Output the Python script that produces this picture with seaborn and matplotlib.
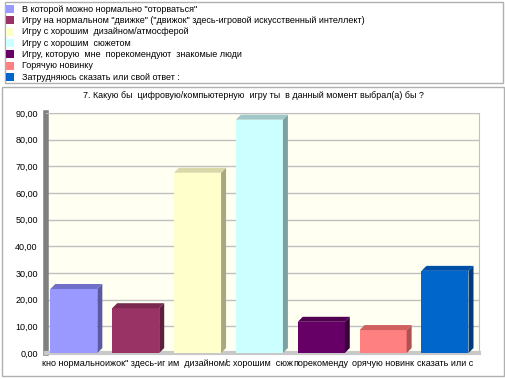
import matplotlib
matplotlib.use("Agg")
import matplotlib.pyplot as plt
import seaborn as sns
import pandas as pd
from matplotlib.patches import Rectangle, Polygon
from matplotlib.transforms import IdentityTransform

categories = [
    'В которой можно нормально "оторваться"',
    'Игру на нормальном "движке" ("движок" здесь-игровой искусственный интеллект)',
    'Игру с хорошим  дизайном/атмосферой',
    'Игру с хорошим  сюжетом',
    'Игру, которую  мне  порекомендуют  знакомые люди',
    'Горячую новинку',
    'Затрудняюсь сказать или свой ответ :',
]
tick_labels = ["кно нормально", "ижок\" здесь-иг", "им  дизайном/", "с хорошим  сюж",
               "порекоменду", "орячую новинк", "сказать или с"]
values = [24.0, 16.8, 67.6, 87.5, 11.7, 8.6, 30.8]
colors = ["#9999FF", "#993366", "#FFFFCC", "#CCFFFF", "#660066", "#FF8080", "#0066CC"]
side_colors = ["#5a5aa0", "#5e1f3e", "#a8a880", "#7fa0a0", "#3a003a", "#b05050", "#003c7a"]
top_colors = ["#7070c8", "#7a284f", "#d8d8a8", "#a0c8c8", "#500050", "#d06060", "#0050a8"]
title = "7. Какую бы  цифровую/компьютерную  игру ты  в данный момент выбрал(а) бы ?"
yticks = [0, 10, 20, 30, 40, 50, 60, 70, 80, 90]

plt.rcParams['font.family'] = ['Liberation Sans', 'DejaVu Sans']
W, H = 506, 379
fig = plt.figure(figsize=(W / 100, H / 100), dpi=100)
fig.patch.set_facecolor("white")

# legend box
fig.patches.append(Rectangle((5 / W, 1 - 83 / H), 498 / W, 81 / H, transform=fig.transFigure,
                             facecolor="white", edgecolor="#b0b0b0", lw=1, zorder=-5))
for i, (c, col) in enumerate(zip(categories, colors)):
    yc = 9 + i * 11.35
    fig.patches.append(Rectangle((6 / W, 1 - (yc + 4) / H), 8 / W, 8 / H, transform=fig.transFigure,
                                 facecolor=col, edgecolor="none", zorder=-4))
    fig.text(22 / W, 1 - yc / H, c, fontsize=6.5, va="center", ha="left")

# chart box
fig.patches.append(Rectangle((2 / W, 1 - 376 / H), 502 / W, 289 / H, transform=fig.transFigure,
                             facecolor="white", edgecolor="#b0b0b0", lw=1, zorder=-5))
fig.text(253 / W, 1 - 96 / H, title, fontsize=6.4, ha="center", va="center")

ax = fig.add_axes([46 / W, 1 - 353 / H, (479 - 46) / W, (353 - 113) / H])
ax.set_zorder(2)
ax.set_facecolor("#FFFFF2")
df = pd.DataFrame({"cat": tick_labels, "val": values})
sns.barplot(data=df, x="cat", y="val", hue="cat", palette=colors, legend=False,
            ax=ax, width=0.76, saturation=1, edgecolor="none", zorder=3)
ax.set_ylim(0, 90)
ax.set_xlim(-0.45, len(values) - 0.45)
ax.set_yticks(yticks)
ax.set_yticklabels([f"{t:.2f}".replace(".", ",") for t in yticks], fontsize=6.5)
ax.set_xticks(range(len(tick_labels)))
ax.set_xticklabels(tick_labels, fontsize=6.5)
ax.tick_params(length=0, pad=4)
ax.tick_params(axis="y", pad=6)
ax.set_xlabel("")
ax.set_ylabel("")
ax.grid(axis="y", color="#c0c0c0", lw=1, zorder=0)
ax.set_axisbelow(True)
for s in ["top", "right"]:
    ax.spines[s].set_color("#c0c0c0")
ax.spines["bottom"].set_color("#c8c8c8")
ax.spines["bottom"].set_linewidth(3)
ax.spines["left"].set_color("#808080")
ax.spines["left"].set_linewidth(4)

# pseudo-3D faces computed from bar patches
fig.canvas.draw()
dx, dy = 5, 5
for p, sc, tc in zip(list(ax.patches), side_colors, top_colors):
    x0, y0 = p.get_x(), p.get_y()
    x1, y1 = x0 + p.get_width(), y0 + p.get_height()
    (X0, Y0), (X1, Y1) = ax.transData.transform([(x0, y0), (x1, y1)])
    side = Polygon([(X1, Y0), (X1, Y1), (X1 + dx, Y1 + dy), (X1 + dx, Y0 + dy)],
                   closed=True, facecolor=sc, edgecolor="none", transform=IdentityTransform(), zorder=4)
    top = Polygon([(X0, Y1), (X1, Y1), (X1 + dx, Y1 + dy), (X0 + dx, Y1 + dy)],
                  closed=True, facecolor=tc, edgecolor="none", transform=IdentityTransform(), zorder=4)
    ax.add_artist(side)
    ax.add_artist(top)

fig.savefig("out.png", dpi=100)
